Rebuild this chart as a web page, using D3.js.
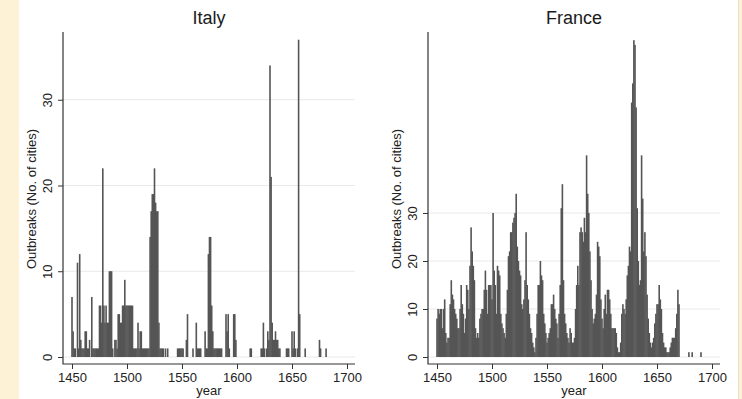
<!DOCTYPE html>
<html>
<head>
<meta charset="utf-8">
<script src="https://cdn.jsdelivr.net/npm/d3@7"></script>
<style>
  body { margin: 0; background: #fff; }
  svg { display: block; font-family: "Liberation Sans", Arial, sans-serif; }
</style>
</head>
<body>
<div id="canvas"></div>
<script>
// chart size
var width = 742,
  height = 399;

// Italy: years with outbreaks and number of cities
var italyYears = [
  1450, 1451, 1452, 1453, 1455, 1456, 1457, 1458, 1459, 1460, 1461, 1462, 1463, 1464, 1465, 1466,
  1468, 1469, 1470, 1471, 1472, 1473, 1474, 1475, 1476, 1477, 1478, 1479, 1480, 1481, 1482, 1483,
  1484, 1485, 1486, 1487, 1489, 1490, 1491, 1492, 1493, 1494, 1495, 1496, 1497, 1498, 1499, 1500,
  1501, 1502, 1503, 1504, 1505, 1506, 1507, 1508, 1509, 1510, 1511, 1512, 1513, 1514, 1515, 1516,
  1517, 1518, 1519, 1520, 1521, 1522, 1523, 1524, 1525, 1526, 1527, 1528, 1529, 1530, 1531, 1532,
  1533, 1535, 1537, 1546, 1547, 1548, 1549, 1550, 1551, 1554, 1555, 1560, 1563, 1564, 1565, 1566,
  1567, 1571, 1572, 1573, 1574, 1575, 1576, 1577, 1578, 1579, 1580, 1581, 1582, 1583, 1584, 1585,
  1586, 1590, 1591, 1592, 1593, 1597, 1598, 1599, 1612, 1613, 1622, 1623, 1624, 1625, 1627, 1628,
  1629, 1630, 1631, 1632, 1633, 1634, 1635, 1636, 1637, 1638, 1639, 1645, 1646, 1647, 1650, 1651,
  1652, 1653, 1655, 1656, 1657, 1662, 1675, 1676, 1681
];
var italyCounts = [
  7, 3, 1, 1, 11, 1, 12, 2, 1, 1, 1, 3, 3, 1, 1, 2,
  7, 1, 1, 1, 1, 1, 1, 6, 6, 4, 22, 6, 4, 6, 4, 4,
  10, 10, 10, 1, 2, 2, 1, 5, 5, 4, 4, 6, 6, 9, 6, 6,
  6, 6, 6, 6, 6, 1, 1, 1, 1, 4, 1, 3, 3, 1, 1, 1,
  1, 1, 1, 1, 14, 17, 19, 19, 22, 18, 17, 17, 4, 1, 1, 1,
  1, 1, 1, 1, 1, 1, 1, 1, 1, 2, 5, 1, 4, 1, 1, 1,
  1, 3, 1, 1, 12, 14, 14, 6, 3, 1, 1, 1, 1, 1, 1, 1,
  1, 5, 3, 5, 1, 5, 5, 2, 1, 1, 1, 1, 4, 1, 1, 3,
  2, 34, 21, 4, 2, 2, 3, 2, 2, 1, 1, 1, 1, 1, 3, 1,
  3, 1, 1, 37, 5, 1, 2, 1, 1
];

// France: one value per year starting in franceFirstYear
var franceFirstYear = 1450;
var franceCounts = [
  8, 10, 9, 10, 10, 6, 10, 12, 5, 3, 4, 4, 11, 16, 13, 12, 10, 9, 8, 6,
  6, 10, 15, 11, 9, 5, 8, 15, 14, 10, 19, 27, 22, 19, 16, 6, 4, 5, 4, 8,
  9, 10, 10, 14, 18, 14, 9, 15, 15, 15, 12, 30, 18, 15, 9, 19, 18, 17, 9, 7,
  6, 5, 4, 9, 14, 21, 22, 26, 26, 28, 29, 30, 34, 23, 20, 18, 17, 11, 10, 12,
  16, 26, 15, 12, 9, 6, 5, 3, 2, 1, 4, 9, 15, 15, 20, 17, 16, 9, 7, 5,
  3, 4, 5, 6, 11, 11, 13, 10, 8, 7, 4, 9, 15, 31, 36, 16, 9, 7, 5, 4,
  3, 6, 5, 3, 3, 4, 10, 15, 19, 15, 26, 27, 26, 24, 29, 26, 42, 34, 30, 22,
  16, 10, 7, 8, 9, 13, 24, 23, 21, 12, 8, 6, 10, 13, 9, 14, 14, 12, 9, 6,
  6, 6, 6, 5, 2, 1, 1, 3, 9, 11, 10, 9, 12, 17, 19, 23, 22, 53, 57, 66,
  65, 52, 31, 20, 15, 16, 42, 33, 22, 26, 21, 13, 8, 5, 3, 2, 3, 4, 7, 9,
  11, 11, 15, 12, 10, 5, 3, 2, 2, 1, 1, 1, 2, 3, 4, 4, 4, 6, 9, 14,
  11
];
var franceLateYears = [1679, 1682, 1690];
var franceLateCounts = [1, 1, 1];

var xTicks = [1450, 1500, 1550, 1600, 1650, 1700];
var yTicks = [0, 10, 20, 30];

// build a list of {year, value} for each panel
var italyData = italyYears.map((y, i) => ({ year: y, value: italyCounts[i] }));
var franceData = franceCounts
  .map((v, i) => ({ year: franceFirstYear + i, value: v }))
  .concat(franceLateYears.map((y, i) => ({ year: y, value: franceLateCounts[i] })));

var panels = [
  { title: "Italy", data: italyData, offset: 0, yMax: 37.9 },
  { title: "France", data: franceData, offset: 365, yMax: 67.7 },
];

var svg = d3
  .select("#canvas")
  .append("svg")
  .attr("width", width)
  .attr("height", height);

svg.append("rect").attr("width", width).attr("height", height).attr("fill", "#fff");

// pale page border on the sides
svg.append("rect").attr("x", 0).attr("y", 0).attr("width", 19).attr("height", height).attr("fill", "#fdf2d6");
svg.append("rect").attr("x", 738.5).attr("y", 0).attr("width", 4).attr("height", height).attr("fill", "#fdf2d6");
svg.append("line").attr("x1", 738.5).attr("x2", 738.5).attr("y1", 0).attr("y2", height).attr("stroke", "#eadfc6");

// plot area (Italy coords, France shifted)
var axisX = 63,
  axisRight = 355,
  axisTop = 32,
  axisBottom = 364,
  zeroY = 357;

var x = d3.scaleLinear().domain([1450, 1700]).range([72, 347]);

function draw_panel(p) {
  var g = svg.append("g").attr("transform", "translate(" + p.offset + ",0)");
  var y = d3.scaleLinear().domain([0, p.yMax]).range([zeroY, axisTop]);

  // grid lines
  g.selectAll("line.grid")
    .data(yTicks)
    .join("line")
    .attr("class", "grid")
    .attr("x1", axisX)
    .attr("x2", axisRight)
    .attr("y1", (d) => y(d))
    .attr("y2", (d) => y(d))
    .attr("stroke", "#e9e9e9")
    .attr("stroke-width", 1.2);

  // bars, one year wide (slightly overlapping so neighbours merge)
  var bw = x(1451) - x(1450) + 0.5;
  g.selectAll("rect.bar")
    .data(p.data.filter((d) => d.value > 0))
    .join("rect")
    .attr("class", "bar")
    .attr("x", (d) => x(d.year) - bw / 2)
    .attr("width", bw)
    .attr("y", (d) => y(d.value))
    .attr("height", (d) => y(0) - y(d.value))
    .attr("fill", "#555");

  // y axis
  var yAxis = g
    .append("g")
    .attr("transform", "translate(" + axisX + ",0)")
    .call(d3.axisLeft(y).tickValues(yTicks).tickSize(5).tickSizeOuter(0));
  yAxis.select(".domain").remove();
  yAxis.selectAll("line").attr("stroke", "#333");
  yAxis
    .selectAll("text")
    .attr("transform", "rotate(-90)")
    .attr("x", 0)
    .attr("y", -11)
    .attr("dy", 0)
    .attr("text-anchor", "middle")
    .attr("font-size", 13)
    .attr("font-family", "Liberation Sans, Arial, sans-serif")
    .attr("fill", "#222");

  // x axis
  var xAxis = g
    .append("g")
    .attr("transform", "translate(0," + axisBottom + ")")
    .call(d3.axisBottom(x).tickValues(xTicks).tickFormat(d3.format("d")).tickSize(5).tickPadding(4).tickSizeOuter(0));
  xAxis.select(".domain").remove();
  xAxis.selectAll("line").attr("stroke", "#333");
  xAxis
    .selectAll("text")
    .attr("font-size", 13)
    .attr("font-family", "Liberation Sans, Arial, sans-serif")
    .attr("fill", "#222");

  // axis lines (L shape)
  g.append("path")
    .attr("d", "M" + axisX + "," + axisTop + "V" + axisBottom + "H" + axisRight)
    .attr("fill", "none")
    .attr("stroke", "#333")
    .attr("stroke-width", 1.2);

  // titles
  g.append("text")
    .text(p.title)
    .attr("x", (axisX + axisRight) / 2)
    .attr("y", 24)
    .attr("text-anchor", "middle")
    .attr("font-size", 18)
    .attr("fill", "#1a1a1a");

  g.append("text")
    .text("year")
    .attr("x", (axisX + axisRight) / 2)
    .attr("y", 395)
    .attr("text-anchor", "middle")
    .attr("font-size", 13)
    .attr("fill", "#222");

  g.append("text")
    .text("Outbreaks (No. of cities)")
    .attr("transform", "translate(36,199) rotate(-90)")
    .attr("text-anchor", "middle")
    .attr("font-size", 13)
    .attr("fill", "#222");
}

panels.forEach(draw_panel);
</script>
</body>
</html>
